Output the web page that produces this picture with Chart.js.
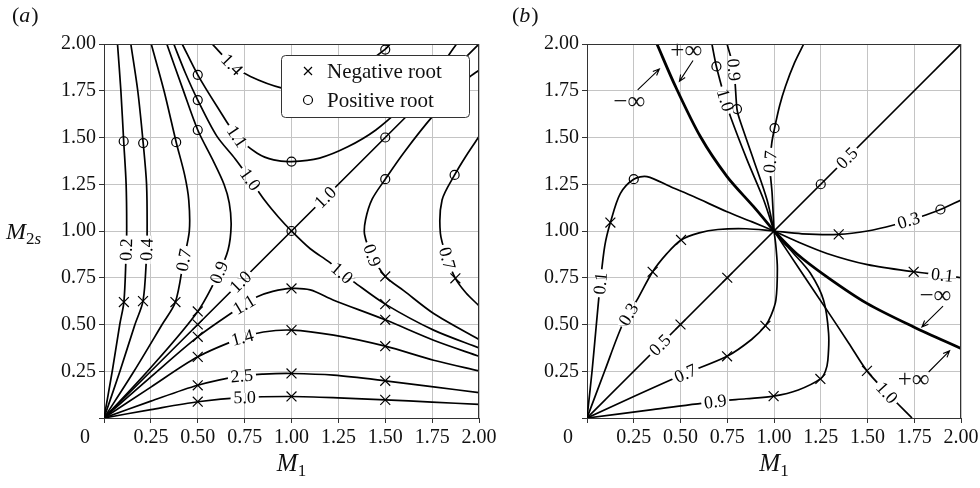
<!DOCTYPE html>
<html>
<head>
<meta charset="utf-8">
<script src="https://cdn.jsdelivr.net/npm/chart.js@4.4.1/dist/chart.umd.min.js"></script>
<style>
  body { margin: 0; background: #fff; }
  #wrap { position: relative; width: 980px; height: 488px; }
  canvas { position: absolute; top: 0; }
</style>
</head>
<body>
<div id="wrap">
  <canvas id="chartA" width="500" height="488" style="left:0"></canvas>
  <canvas id="chartB" width="490" height="488" style="left:490px"></canvas>
</div>
<script>
const SERIF = "'Liberation Serif', 'Times New Roman', Times, serif";
const tickVals = [0, 0.25, 0.5, 0.75, 1, 1.25, 1.5, 1.75, 2];

// ---- panel (a) contours, [M1, M2s] pairs ----
const a02 = [[0,0],[0.044,0.25],[0.084,0.5],[0.106,0.62],[0.117,0.85],[0.121,1.0],[0.118,1.25],[0.105,1.48],[0.09,1.75],[0.072,2.0]];
const a04 = [[0,0],[0.085,0.25],[0.165,0.5],[0.208,0.625],[0.226,0.85],[0.23,1.0],[0.227,1.25],[0.209,1.47],[0.18,1.75],[0.143,2.0]];
const a07 = [[0,0],[0.16,0.25],[0.31,0.5],[0.381,0.62],[0.425,0.845],[0.455,1.0],[0.452,1.166],[0.43,1.3],[0.385,1.475],[0.32,1.75],[0.252,2.0]];
const a09 = [[0,0],[0.25,0.27],[0.5,0.57],[0.612,0.775],[0.662,0.9],[0.678,1.03],[0.668,1.15],[0.64,1.25],[0.58,1.38],[0.5,1.54],[0.42,1.76],[0.335,2.0]];
const a10d = [[0,0],[0.5,0.5],[1,1],[1.5,1.5],[2,2]];
const a10x = [[0.372,2.0],[0.434,1.845],[0.5,1.70],[0.6,1.51],[0.7,1.385],[0.78,1.275],[0.86,1.16],[0.93,1.075],[1,1],[1.1,0.905],[1.2,0.835],[1.27,0.775],[1.332,0.728],[1.5,0.609],[1.758,0.47],[2,0.375]];
const a11u = [[0.417,2.0],[0.5,1.835],[0.603,1.666],[0.71,1.505],[0.817,1.416],[0.905,1.38],[1.0,1.371],[1.15,1.39],[1.3,1.45],[1.45,1.54],[1.6,1.67],[1.75,1.82],[1.88,2.0]];
const a14u = [[0.577,2.0],[0.683,1.89],[0.781,1.826],[0.95,1.764],[1.05,1.76],[1.2,1.8],[1.4,1.9],[1.497,1.97],[1.527,2.0]];
const a11l = [[0,0],[0.25,0.22],[0.5,0.434],[0.745,0.605],[0.817,0.648],[0.9,0.677],[1.0,0.693],[1.1,0.685],[1.225,0.63],[1.5,0.525],[1.758,0.416],[2.0,0.33]];
const a14l = [[0,0],[0.25,0.165],[0.5,0.327],[0.737,0.43],[0.85,0.46],[1.0,0.47],[1.225,0.443],[1.5,0.384],[1.758,0.309],[2.0,0.252]];
const a25 = [[0,0],[0.25,0.09],[0.5,0.175],[0.728,0.225],[0.85,0.235],[1.0,0.238],[1.225,0.229],[1.5,0.199],[1.758,0.166],[2.0,0.136]];
const a50 = [[0,0],[0.25,0.045],[0.5,0.087],[0.745,0.11],[1.0,0.115],[1.25,0.108],[1.5,0.097],[1.75,0.085],[2.0,0.073]];
const a09r = [[2.0,1.86],[1.944,1.818],[1.75,1.61],[1.6,1.42],[1.5,1.277],[1.43,1.17],[1.395,1.06],[1.39,0.98],[1.43,0.87],[1.5,0.757],[1.6,0.68],[1.758,0.559],[2.0,0.42]];
const a07r = [[2.0,1.505],[1.93,1.40],[1.87,1.30],[1.803,1.166],[1.794,0.988],[1.83,0.854],[1.874,0.747],[1.93,0.67],[2.0,0.60]];
const aNeg = [[0.106,0.62],[0.208,0.625],[0.381,0.62],[0.5,0.57],[0.5,0.5],[0.5,0.434],[0.5,0.327],[0.5,0.175],[0.5,0.087],
              [1,0.693],[1,0.47],[1,0.238],[1,0.115],[1.5,0.757],[1.5,0.609],[1.5,0.525],[1.5,0.384],[1.5,0.199],[1.5,0.097],[1.874,0.747]];
const aPos = [[0.105,1.48],[0.209,1.47],[0.385,1.475],[0.5,1.54],[0.5,1.70],[0.5,1.835],[1,1.371],[1,1],
              [1.5,1.277],[1.5,1.5],[1.5,1.97],[1.87,1.30]];
// contour labels: text, curve, approximate spot
const aLabels = [
  ['0.2', a02, 0.117, 0.9], ['0.4', a04, 0.226, 0.9], ['0.7', a07, 0.425, 0.845], ['0.9', a09, 0.608, 0.78],
  ['1.0', a10d, 0.728, 0.728], ['1.1', a11l, 0.745, 0.61], ['1.4', a14l, 0.737, 0.435], ['2.5', a25, 0.735, 0.226],
  ['5.0', a50, 0.75, 0.112], ['1.4', a14u, 0.683, 1.89], ['1.1', a11u, 0.71, 1.505], ['1.0', a10x, 0.78, 1.275],
  ['1.0', a10d, 1.18, 1.18], ['1.0', a10x, 1.27, 0.775], ['0.9', a09r, 1.43, 0.87], ['0.7', a07r, 1.83, 0.854]
];

// ---- panel (b) contours ----
const b01l = [[0,0],[0.027,0.25],[0.05,0.5],[0.071,0.72],[0.095,0.92],[0.125,1.045],[0.178,1.2],[0.25,1.277],[0.321,1.291],[0.45,1.235],[0.57,1.184],[0.749,1.103],[0.88,1.05],[1,1]];
const b01r = [[1,1],[1.12,0.945],[1.283,0.88],[1.5,0.82],[1.747,0.782],[1.9,0.765],[2,0.75]];
const b03l = [[0,0],[0.094,0.25],[0.19,0.5],[0.267,0.63],[0.351,0.782],[0.428,0.88],[0.503,0.952],[0.6,0.99],[0.7,1.008],[0.85,1.012],[1,1]];
const b03r = [[1,1],[1.15,0.985],[1.346,0.982],[1.5,1.0],[1.64,1.032],[1.78,1.075],[1.89,1.115],[2,1.166]];
const b05 = [[0,0],[0.5,0.5],[1,1],[1.5,1.5],[2,2]];
const b07l = [[0,0],[0.25,0.115],[0.526,0.238],[0.749,0.33],[0.88,0.42],[0.954,0.493],[0.985,0.55],[1.01,0.63],[1.018,0.8],[1.01,0.92],[1,1]];
const b07u = [[1,1],[0.99,1.2],[0.978,1.35],[0.988,1.47],[1.003,1.55],[1.03,1.67],[1.061,1.773],[1.11,1.9],[1.159,2.0]];
const b09l = [[0,0],[0.35,0.045],[0.686,0.088],[0.85,0.103],[0.998,0.117],[1.13,0.15],[1.248,0.209],[1.275,0.25],[1.288,0.309],[1.292,0.452],[1.265,0.63],[1.194,0.775],[1.105,0.88],[1.04,0.95],[1,1]];
const b09u = [[1,1],[0.963,1.166],[0.891,1.38],[0.815,1.6],[0.802,1.652],[0.785,1.862],[0.749,2.0]];
const b10u = [[1,1],[0.945,1.166],[0.856,1.38],[0.767,1.612],[0.74,1.70],[0.692,1.88],[0.668,2.0]];
const b10l = [[1,1],[1.14,0.79],[1.283,0.577],[1.4,0.4],[1.497,0.252],[1.604,0.135],[1.738,0]];
const bInfUp = [[0.374,2.0],[0.473,1.773],[0.606,1.505],[0.749,1.291],[0.891,1.13],[1,1]];
const bInfDn = [[1,1],[1.12,0.88],[1.283,0.755],[1.497,0.613],[1.747,0.487],[2,0.372]];
const bNeg = [[0.125,1.045],[0.351,0.782],[0.503,0.952],[0.5,0.5],[0.75,0.75],[0.749,0.33],[0.954,0.493],
              [0.998,0.117],[1.248,0.209],[1.497,0.252],[1.346,0.982],[1.747,0.782]];
const bPos = [[0.25,1.277],[0.692,1.88],[0.802,1.652],[1.003,1.55],[1.25,1.25],[1.89,1.115]];
const bLabels = [
  ['0.1', b01l, 0.071, 0.72], ['0.3', b03l, 0.214, 0.559], ['0.5', b05, 0.39, 0.39], ['0.7', b07l, 0.526, 0.238],
  ['0.9', b09l, 0.686, 0.088], ['0.5', b05, 1.39, 1.39], ['0.7', b07u, 0.975, 1.37], ['0.9', b09u, 0.785, 1.862],
  ['1.0', b10u, 0.74, 1.70], ['1.0', b10l, 1.604, 0.135], ['0.3', b03r, 1.72, 1.055], ['0.1', b01r, 1.90, 0.765]
];
const bInfText = [['+\u221e', 0.531, 1.959], ['\u2212\u221e', 0.226, 1.685], ['\u2212\u221e', 1.863, 0.648], ['+\u221e', 1.747, 0.202]];
const bInfArrows = [[0.271,1.755,0.387,1.866], [0.567,1.912,0.494,1.80], [1.904,0.598,1.791,0.487], [1.827,0.246,1.939,0.359]];

function lineSet(pts, w) {
  return {
    data: pts.map(p => ({ x: p[0], y: p[1] })),
    showLine: true, borderColor: '#000', borderWidth: w || 1.7,
    pointRadius: 0, pointHoverRadius: 0, tension: 0.3, fill: false
  };
}
function markSet(pts, style, r) {
  return {
    data: pts.map(p => ({ x: p[0], y: p[1] })),
    showLine: false, pointStyle: style, pointRadius: r, pointHoverRadius: r,
    borderColor: '#000', backgroundColor: 'rgba(0,0,0,0)', pointBorderWidth: 1.2, borderWidth: 1.2
  };
}

function scalesFor(yWidth) {
  const grid = { color: '#c4c4c4', lineWidth: 1, tickLength: 5, tickColor: '#333' };
  const border = { color: '#333', width: 1 };
  const ticks = { font: { family: SERIF, size: 20 }, color: '#111', padding: 3, maxRotation: 0, autoSkip: false,
                  callback: v => v === 0 ? '' : v.toFixed(2) };
  const setTicks = s => { s.ticks = tickVals.map(v => ({ value: v })); };
  return {
    x: { type: 'linear', min: 0, max: 2, grid, border, ticks, afterBuildTicks: setTicks,
         afterFit: s => { s.height = 70; s.paddingLeft = 0; s.paddingRight = 0; } },
    y: { type: 'linear', min: 0, max: 2, grid, border, ticks, afterBuildTicks: setTicks,
         afterFit: s => { s.width = yWidth; s.paddingTop = 0; s.paddingBottom = 0; } }
  };
}

// redraw the grid inside the current clip (used where a label cuts a contour)
function regrid(chart) {
  const { ctx, chartArea: ca, scales: { x, y } } = chart;
  ctx.strokeStyle = '#c4c4c4'; ctx.lineWidth = 1;
  ctx.beginPath();
  tickVals.forEach(v => {
    const px = Math.round(x.getPixelForValue(v)) + 0.5, py = Math.round(y.getPixelForValue(v)) + 0.5;
    ctx.moveTo(px, ca.top); ctx.lineTo(px, ca.bottom);
    ctx.moveTo(ca.left, py); ctx.lineTo(ca.right, py);
  });
  ctx.stroke();
}

function drawContourLabels(chart, list) {
  const { ctx, scales: { x, y } } = chart;
  ctx.font = '18px ' + SERIF;
  list.forEach(([txt, pts, lx, ly]) => {
    const pp = pts.map(p => [x.getPixelForValue(p[0]), y.getPixelForValue(p[1])]);
    const tx = x.getPixelForValue(lx), ty = y.getPixelForValue(ly);
    let best = null;
    for (let i = 0; i < pp.length - 1; i++) {
      const [x1, y1] = pp[i], [x2, y2] = pp[i + 1];
      const dx = x2 - x1, dy = y2 - y1, L2 = dx * dx + dy * dy;
      let t = L2 ? ((tx - x1) * dx + (ty - y1) * dy) / L2 : 0;
      t = Math.max(0, Math.min(1, t));
      const qx = x1 + t * dx, qy = y1 + t * dy, d = (qx - tx) ** 2 + (qy - ty) ** 2;
      if (!best || d < best.d) best = { d, qx, qy, ang: Math.atan2(dy, dx) };
    }
    let a = best.ang;
    if (a > Math.PI / 2) a -= Math.PI;
    if (a < -Math.PI / 2) a += Math.PI;
    const w = ctx.measureText(txt).width;
    ctx.save();
    ctx.translate(best.qx, best.qy);
    ctx.rotate(a);
    ctx.beginPath();
    ctx.rect(-w / 2 - 3, -4.5, w + 6, 9);
    ctx.save();
    ctx.clip();
    ctx.fillStyle = '#fff';
    ctx.fillRect(-w / 2 - 3, -4.5, w + 6, 9);
    ctx.setTransform(1, 0, 0, 1, 0, 0);
    regrid(chart);
    ctx.restore();
    ctx.fillStyle = '#000';
    ctx.textAlign = 'center';
    ctx.textBaseline = 'middle';
    ctx.fillText(txt, 0, 1);
    ctx.restore();
  });
}

function drawFrameAndZero(chart) {
  const { ctx, chartArea: ca } = chart;
  ctx.save();
  ctx.strokeStyle = '#333'; ctx.lineWidth = 1;
  ctx.beginPath();
  ctx.moveTo(ca.left, Math.round(ca.top) + 0.5); ctx.lineTo(ca.right, Math.round(ca.top) + 0.5);
  ctx.moveTo(Math.round(ca.right) - 0.5, ca.top); ctx.lineTo(Math.round(ca.right) - 0.5, ca.bottom);
  ctx.stroke();
  ctx.fillStyle = '#111';
  ctx.font = '20px ' + SERIF;
  ctx.textAlign = 'center'; ctx.textBaseline = 'middle';
  ctx.fillText('0', ca.left - 19, ca.bottom + 5 + 3 + 12);
  ctx.restore();
}

function drawMTitle(ctx, cx, base, sub) {
  ctx.save();
  ctx.fillStyle = '#111';
  ctx.textBaseline = 'alphabetic';
  ctx.font = 'italic 25px ' + SERIF;
  const wM = ctx.measureText('M').width;
  ctx.font = '17px ' + SERIF;
  const wS = ctx.measureText(sub).width;
  const x0 = cx - (wM + wS) / 2;
  ctx.font = 'italic 25px ' + SERIF;
  ctx.fillText('M', x0, base);
  ctx.font = '17px ' + SERIF;
  ctx.fillText(sub, x0 + wM, base + 5);
  ctx.restore();
}

function drawPanelTag(ctx, x, base, letter) {
  ctx.save();
  ctx.fillStyle = '#111';
  ctx.textBaseline = 'alphabetic';
  ctx.font = '22px ' + SERIF;
  ctx.fillText('(', x, base);
  let w = ctx.measureText('(').width;
  ctx.font = 'italic 22px ' + SERIF;
  ctx.fillText(letter, x + w, base);
  w += ctx.measureText(letter).width + 1;
  ctx.font = '22px ' + SERIF;
  ctx.fillText(')', x + w, base);
  ctx.restore();
}

const panelA = {
  id: 'panelA',
  afterDatasetsDraw(chart) {
    const { ctx, chartArea: ca } = chart;
    drawContourLabels(chart, aLabels);
    // legend box in the upper right of the plot
    const lx = ca.right - 198, ly = ca.top + 11, lw = 188, lh = 62;
    ctx.save();
    ctx.beginPath();
    ctx.roundRect(lx + 0.5, ly + 0.5, lw, lh, 4);
    ctx.fillStyle = '#fff'; ctx.fill();
    ctx.strokeStyle = '#333'; ctx.lineWidth = 1; ctx.stroke();
    ctx.strokeStyle = '#000'; ctx.lineWidth = 1.2;
    const mx = lx + 27, r1 = ly + 16, r2 = ly + 45;
    ctx.beginPath();
    ctx.moveTo(mx - 4, r1 - 4); ctx.lineTo(mx + 4, r1 + 4);
    ctx.moveTo(mx - 4, r1 + 4); ctx.lineTo(mx + 4, r1 - 4);
    ctx.stroke();
    ctx.beginPath(); ctx.arc(mx, r2, 4.5, 0, Math.PI * 2); ctx.stroke();
    ctx.fillStyle = '#111'; ctx.font = '21px ' + SERIF;
    ctx.textAlign = 'left'; ctx.textBaseline = 'middle';
    ctx.fillText('Negative root', lx + 46, r1 + 1);
    ctx.fillText('Positive root', lx + 46, r2 + 1);
    ctx.restore();
  },
  afterDraw(chart) {
    const { ctx, chartArea: ca } = chart;
    drawFrameAndZero(chart);
    drawPanelTag(ctx, 12, 22, 'a');
    drawMTitle(ctx, (ca.left + ca.right) / 2, 471, '1');
    // y title M_2s
    ctx.save();
    ctx.fillStyle = '#111';
    ctx.font = 'italic 24px ' + SERIF;
    ctx.fillText('M', 6, 239);
    const wM = ctx.measureText('M').width;
    ctx.font = '17px ' + SERIF;
    ctx.fillText('2', 6 + wM, 244);
    const w2 = ctx.measureText('2').width;
    ctx.font = 'italic 17px ' + SERIF;
    ctx.fillText('s', 6 + wM + w2, 244);
    ctx.restore();
  }
};

const panelB = {
  id: 'panelB',
  afterDatasetsDraw(chart) {
    const { ctx, scales: { x, y } } = chart;
    drawContourLabels(chart, bLabels);
    ctx.save();
    ctx.fillStyle = '#111';
    ctx.font = '25px ' + SERIF;
    ctx.textAlign = 'center'; ctx.textBaseline = 'middle';
    bInfText.forEach(([t, vx, vy]) => ctx.fillText(t, x.getPixelForValue(vx), y.getPixelForValue(vy)));
    ctx.strokeStyle = '#000'; ctx.lineWidth = 1.1;
    bInfArrows.forEach(([x1, y1, x2, y2]) => {
      const p1x = x.getPixelForValue(x1), p1y = y.getPixelForValue(y1);
      const p2x = x.getPixelForValue(x2), p2y = y.getPixelForValue(y2);
      const a = Math.atan2(p2y - p1y, p2x - p1x);
      ctx.beginPath();
      ctx.moveTo(p1x, p1y); ctx.lineTo(p2x, p2y);
      ctx.moveTo(p2x - 7 * Math.cos(a - 0.4), p2y - 7 * Math.sin(a - 0.4));
      ctx.lineTo(p2x, p2y);
      ctx.lineTo(p2x - 7 * Math.cos(a + 0.4), p2y - 7 * Math.sin(a + 0.4));
      ctx.stroke();
    });
    ctx.restore();
  },
  afterDraw(chart) {
    const { ctx, chartArea: ca } = chart;
    drawFrameAndZero(chart);
    drawPanelTag(ctx, 22, 22, 'b');
    drawMTitle(ctx, (ca.left + ca.right) / 2, 471, '1');
  }
};

function makeChart(id, lines, neg, pos, yWidth, rightPad, plugin) {
  const datasets = lines.map(l => lineSet(l[0], l[1]));
  datasets.push(markSet(neg, 'crossRot', 7));
  datasets.push(markSet(pos, 'circle', 4.5));
  return new Chart(document.getElementById(id), {
    type: 'scatter',
    data: { datasets },
    options: {
      responsive: false, animation: false, devicePixelRatio: 1,
      layout: { padding: { left: 0, top: 44, right: rightPad, bottom: 0 } },
      plugins: { legend: { display: false }, tooltip: { enabled: false } },
      events: [],
      scales: scalesFor(yWidth)
    },
    plugins: [plugin]
  });
}

makeChart('chartA',
  [[a02], [a04], [a07], [a09], [a10d], [a10x], [a11u], [a14u], [a11l], [a14l], [a25], [a50], [a09r], [a07r]],
  aNeg, aPos, 104, 21, panelA);

makeChart('chartB',
  [[b01l], [b01r], [b03l], [b03r], [b05], [b07l], [b07u], [b09l], [b09u], [b10u], [b10l], [bInfUp, 2.8], [bInfDn, 2.8]],
  bNeg, bPos, 97, 19, panelB);
</script>
</body>
</html>
